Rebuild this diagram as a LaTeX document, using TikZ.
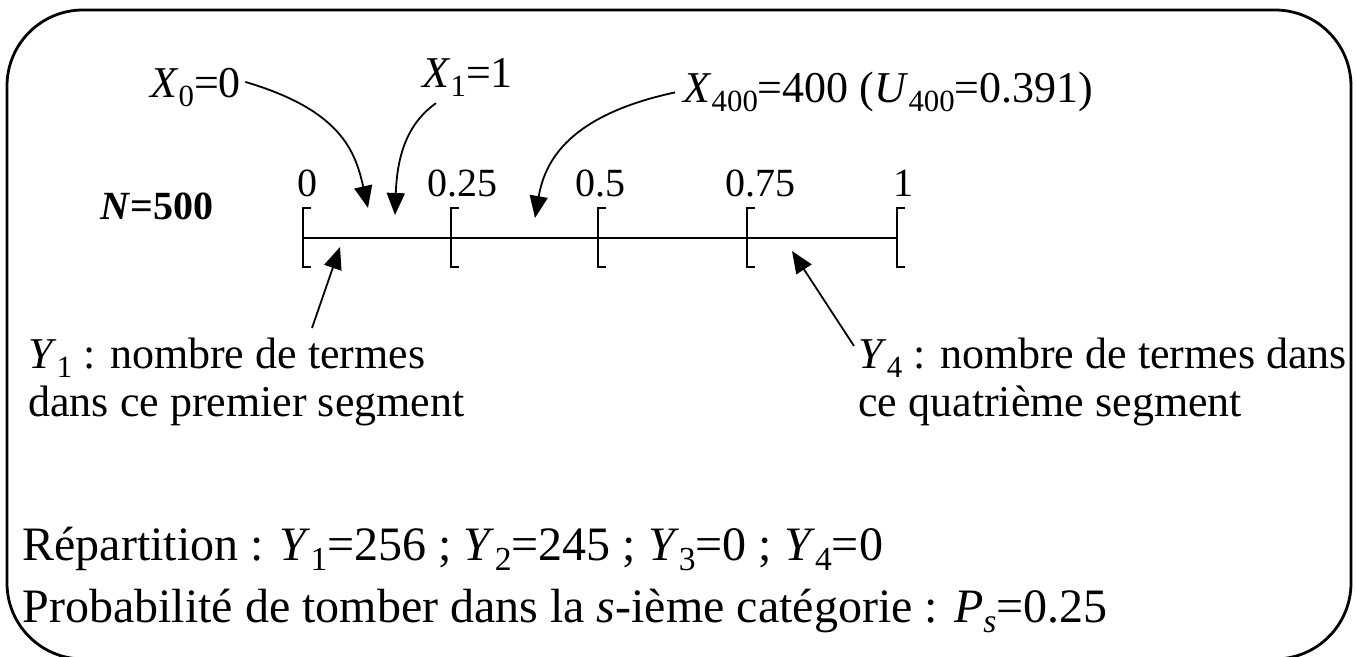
\documentclass[tikz,border=0pt]{standalone}
\usepackage{fontspec}
\usepackage{graphicx}
\setmainfont{Liberation Serif}
\usetikzlibrary{arrows.meta}
\newcommand{\vsub}[2]{\textit{#1}\raisebox{-0.2em}{\scalebox{0.7}{#2}}}

\begin{document}
\begin{tikzpicture}[
    x=0.5pt, y=-0.5pt,
    lbl/.style={inner sep=0pt, anchor=base west, font=\fontsize{22}{23.5}\selectfont},
    note/.style={inner sep=0pt, anchor=north west, align=left, font=\fontsize{22}{24}\selectfont},
    tick/.style={inner sep=0pt, anchor=base, font=\fontsize{20}{24}\selectfont},
    main/.style={inner sep=0pt, anchor=base west, font=\fontsize{24}{28}\selectfont},
    brk/.style={line width=1pt},
    arr/.style={-{Triangle[length=11pt,width=9pt]}, line width=0.9pt}
  ]
    \useasboundingbox (0,0) rectangle (1356,657);
    \draw[line width=1.4pt, rounded corners=38pt] (7,10) rectangle (1351,659);

    % the unit segment and its four categories
    \draw[brk] (303,238) -- (897,238);
    \foreach \px/\val in {303/0, 451/0.25, 598/0.5, 747/0.75, 897/1} {
      \draw[brk] (\px+8,208) -- (\px,208) -- (\px,267) -- (\px+8,267);
    }
    \node[tick] (t0) at (307,197) {0};
    \node[tick] (t1) at (462,197) {0.25};
    \node[tick] (t2) at (600,197) {0.5};
    \node[tick] (t3) at (760,197) {0.75};
    \node[tick] (t4) at (903,197) {1};
    \node[lbl, font=\fontsize{20}{24}\selectfont\bfseries] (N) at (100,220) {\textit{N}=500};

    % labels and arrow tips
    \node[lbl] (X0) at (150,98) {\vsub{X}{0}=0};
    \node[lbl] (X1) at (422,88) {\vsub{X}{1}=1};
    \node[lbl] (X400) at (683,103) {\vsub{X}{400}=400 (\vsub{U}{400}=0.391)};
    \node[note] (Y1) at (28,338) {\vsub{Y}{1} : nombre de termes\\dans ce premier segment};
    \node[note] (Y4) at (858,338) {\vsub{Y}{4} : nombre de termes dans\\ce quatrième segment};
    \coordinate (p0) at (368,208);
    \coordinate (p1) at (395,215);
    \coordinate (p400) at (535,218);
    \coordinate (q1) at (340,247);
    \coordinate (q4) at (792,251);

    \draw[arr] (X0.east) ++(4,-6) .. controls (340,110) and (355,150) .. (p0);
    \draw[arr] ([xshift=7pt,yshift=-3pt]X1.south west) .. controls (405,125) and (397,160) .. (p1);
    \draw[arr] ([xshift=-4pt]X400.west) .. controls (570,115) and (545,160) .. (p400);
    \draw[arr] ([xshift=142pt,yshift=5pt]Y1.north west) -- (q1);
    \draw[arr] ([xshift=-2pt,yshift=-4pt]Y4.north west) -- (q4);

    % summary lines
    \node[main] (rep) at (22,561) {Répartition : \vsub{Y}{1}=256 ; \vsub{Y}{2}=245 ; \vsub{Y}{3}=0 ; \vsub{Y}{4}=0};
    \node[main] (prob) at (22,623) {Probabilité de tomber dans la \textit{s}-ième catégorie : \vsub{P}{\textit{s}}=0.25};
  \end{tikzpicture}
\end{document}
